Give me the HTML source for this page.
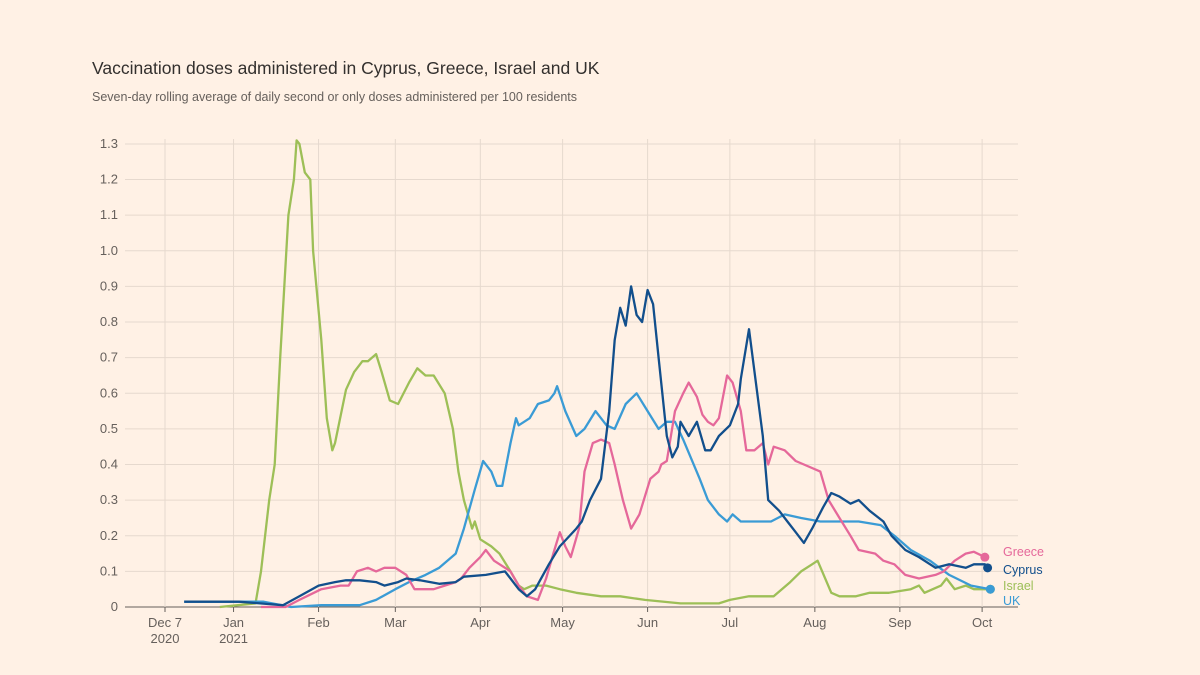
<!DOCTYPE html>
<html><head><meta charset="utf-8"><style>
body{margin:0;background:#fff1e5;font-family:"Liberation Sans",sans-serif}
#w{position:relative;width:1200px;height:675px;overflow:hidden;background:#fff1e5}
</style></head><body>
<div id="w">
<svg id="c" width="1200" height="675">
<text x="92" y="74" font-size="17.5" fill="#33302e">Vaccination doses administered in Cyprus, Greece, Israel and UK</text>
<text x="92" y="101" font-size="12.5" fill="#66605c">Seven-day rolling average of daily second or only doses administered per 100 residents</text>
<g id="grid"></g><g id="lines"></g><g id="labels"></g>
</svg></div>
<script>
const yTicks=[0,0.1,0.2,0.3,0.4,0.5,0.6,0.7,0.8,0.9,1.0,1.1,1.2,1.3];
const xTickDays=[0,25,56,84,115,145,176,206,237,268,298];
const xTickLabels=["Dec 7","Jan","Feb","Mar","Apr","May","Jun","Jul","Aug","Sep","Oct"];
const xTickSub=["2020","2021","","","","","","","","",""];
const seriesNames=["Israel","UK","Greece","Cyprus"];
const seriesColors=["#9dbf57","#3a9bd5","#e5689a","#124f8c"];
const israelDays=[20,33,35,38,40,42,45,47,48,49,51,53,54,57,59,61,62,66,69,72,74,77,79,82,85,89,92,95,98,102,105,107,109,112,113,115,119,122,126,129,131,134,139,144,150,159,166,175,188,202,206,213,222,228,232,236,238,243,246,252,257,264,272,275,277,283,285,288,292,295,301];
const israelVals=[0,0.01,0.1,0.3,0.4,0.7,1.1,1.2,1.31,1.3,1.22,1.2,1.0,0.75,0.53,0.44,0.46,0.61,0.66,0.69,0.69,0.71,0.66,0.58,0.57,0.63,0.67,0.65,0.65,0.6,0.5,0.38,0.3,0.22,0.24,0.19,0.17,0.15,0.1,0.06,0.05,0.06,0.06,0.05,0.04,0.03,0.03,0.02,0.01,0.01,0.02,0.03,0.03,0.07,0.1,0.12,0.13,0.04,0.03,0.03,0.04,0.04,0.05,0.06,0.04,0.06,0.08,0.05,0.06,0.05,0.05];
const ukDays=[7,36,46,57,71,77,84,89,95,100,106,109,113,116,119,121,123,126,128,129,133,136,140,142,143,146,150,153,157,161,164,168,172,176,180,183,186,189,195,198,202,205,207,210,217,221,226,232,239,246,253,261,266,272,279,286,294,301];
const ukVals=[0.015,0.015,0,0.005,0.005,0.02,0.05,0.07,0.09,0.11,0.15,0.22,0.33,0.41,0.38,0.34,0.34,0.46,0.53,0.51,0.53,0.57,0.58,0.6,0.62,0.55,0.48,0.5,0.55,0.51,0.5,0.57,0.6,0.55,0.5,0.52,0.52,0.47,0.36,0.3,0.26,0.24,0.26,0.24,0.24,0.24,0.26,0.25,0.24,0.24,0.24,0.23,0.2,0.16,0.13,0.09,0.06,0.05];
const greeceDays=[35,44,49,57,64,67,70,74,77,80,84,88,91,95,98,102,106,108,111,115,117,120,126,129,132,136,139,142,144,146,148,151,153,156,159,162,164,167,170,173,177,180,181,183,186,189,191,194,196,198,200,202,205,207,210,212,215,218,220,222,226,230,233,239,242,246,250,253,259,262,266,270,275,281,284,288,292,295,299];
const greeceVals=[0,0,0.02,0.05,0.06,0.06,0.1,0.11,0.1,0.11,0.11,0.09,0.05,0.05,0.05,0.06,0.07,0.08,0.11,0.14,0.16,0.13,0.1,0.06,0.03,0.02,0.08,0.16,0.21,0.17,0.14,0.22,0.38,0.46,0.47,0.46,0.4,0.3,0.22,0.26,0.36,0.38,0.4,0.41,0.55,0.6,0.63,0.59,0.54,0.52,0.51,0.53,0.65,0.63,0.55,0.44,0.44,0.46,0.4,0.45,0.44,0.41,0.4,0.38,0.3,0.25,0.2,0.16,0.15,0.13,0.12,0.09,0.08,0.09,0.1,0.13,0.15,0.155,0.14];
const cyprusDays=[7,27,43,49,56,62,66,71,77,80,85,88,93,100,106,109,117,124,126,129,132,135,140,144,150,152,155,159,162,164,166,168,170,172,174,176,178,180,183,185,187,188,191,194,197,199,202,206,209,210,213,215,218,220,224,227,230,233,236,240,243,246,250,253,257,262,265,270,275,281,286,292,295,299,300];
const cyprusVals=[0.015,0.015,0.005,0.03,0.06,0.07,0.075,0.075,0.07,0.06,0.07,0.08,0.075,0.065,0.07,0.085,0.09,0.1,0.08,0.05,0.03,0.05,0.12,0.17,0.22,0.24,0.3,0.36,0.55,0.75,0.84,0.79,0.9,0.82,0.8,0.89,0.85,0.7,0.48,0.42,0.45,0.52,0.48,0.52,0.44,0.44,0.48,0.51,0.57,0.64,0.78,0.66,0.48,0.3,0.27,0.24,0.21,0.18,0.22,0.28,0.32,0.31,0.29,0.3,0.27,0.24,0.2,0.16,0.14,0.11,0.12,0.11,0.12,0.12,0.11];

const NS="http://www.w3.org/2000/svg";
const X0=125,X1=1018,Y0=607;
function xs(d){return 165+d*2.742;}
function ys(v){return Y0-v*356.2;}
function mk(t,a,p){const e=document.createElementNS(NS,t);for(const k in a)e.setAttribute(k,a[k]);p.appendChild(e);return e;}
const grid=document.getElementById('grid'),lines=document.getElementById('lines'),labels=document.getElementById('labels');
yTicks.forEach(v=>{
 const l=mk('line',{x1:X0,x2:X1,y1:ys(v),y2:ys(v),stroke:v===0?'#66605c':'#e6d9ce','stroke-width':1},grid);
 
 
 const t=mk('text',{x:118,y:ys(v)+4,'text-anchor':'end','font-size':13,fill:'#66605c'},grid);
 t.textContent=v===0?'0':v.toFixed(1);
 
 
});
xTickDays.forEach((d,i)=>{
 const l=mk('line',{x1:xs(d),x2:xs(d),y1:ys(1.3)-5,y2:Y0,stroke:'#e6d9ce','stroke-width':1},grid);
 
 
 const k=mk('line',{x1:xs(d),x2:xs(d),y1:Y0,y2:Y0+5,stroke:'#66605c'},grid);
 
 
 const t=mk('text',{x:xs(d),y:627,'text-anchor':'middle','font-size':13,fill:'#66605c'},grid);
 t.textContent=xTickLabels[i];
 
 
 if(xTickSub[i]){const s=mk('text',{x:xs(d),y:643,'text-anchor':'middle','font-size':13,fill:'#66605c'},grid);
 s.textContent=xTickSub[i];
 
 }
});
const allDays=[israelDays,ukDays,greeceDays,cyprusDays];
const allVals=[israelVals,ukVals,greeceVals,cyprusVals];
const labelY=[590,605,556,574];
allDays.forEach((ds,i)=>{
 const vs=allVals[i];
 const pts=ds.map((d,j)=>xs(d).toFixed(1)+','+ys(vs[j]).toFixed(1)).join(' ');
 const p=mk('polyline',{points:pts,fill:'none',stroke:seriesColors[i],'stroke-width':2.3,'stroke-linejoin':'round'},lines);
 
 
 const n=ds.length-1;
 const c=mk('circle',{cx:xs(ds[n]),cy:ys(vs[n]),r:4.5,fill:seriesColors[i]},lines);
 
 
 const t=mk('text',{x:1003,y:labelY[i],'font-size':12.5,fill:seriesColors[i]},labels);
 t.textContent=seriesNames[i];
 
 
});
</script>
</body></html>
